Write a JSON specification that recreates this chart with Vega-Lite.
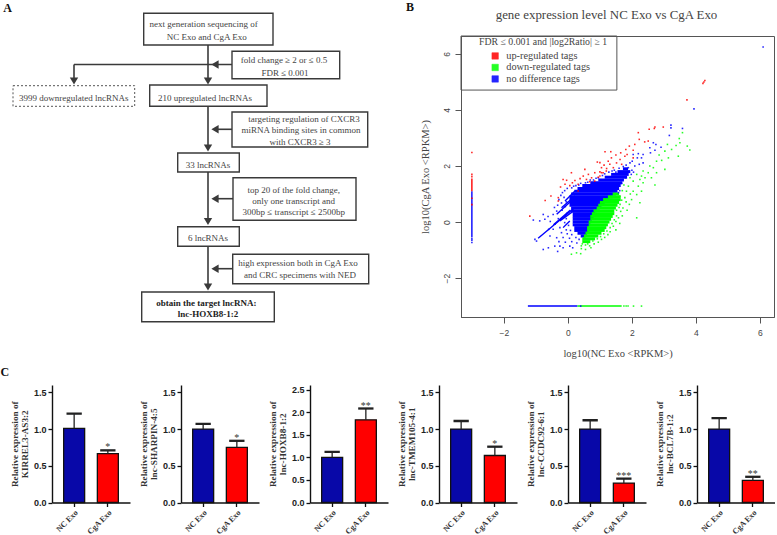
{
"$schema":"https://vega.github.io/schema/vega-lite/v6.json",
"background":"white",
"padding":0,
"spacing":6,
"datasets":{
"boxes":[
{"id":"seq","x0":141.7,"x1":271,"y0":12.3,"y1":44,"dash":"solid"},
{"id":"fc","x0":230,"x1":337.7,"y0":50.3,"y1":77.7,"dash":"solid"},
{"id":"down","x0":11,"x1":132.7,"y0":84.7,"y1":105.3,"dash":"dashed"},
{"id":"up","x0":147.7,"x1":265,"y0":84,"y1":105.3,"dash":"solid"},
{"id":"mirna","x0":230,"x1":365.7,"y0":111,"y1":146,"dash":"solid"},
{"id":"n33","x0":175.7,"x1":237.3,"y0":152,"y1":171,"dash":"solid"},
{"id":"top20","x0":231,"x1":354,"y0":176.7,"y1":219.3,"dash":"solid"},
{"id":"n6","x0":175.7,"x1":237.3,"y0":225.7,"y1":245.3,"dash":"solid"},
{"id":"high","x0":230.7,"x1":366.7,"y0":253.3,"y1":282.7,"dash":"solid"},
{"id":"target","x0":139.7,"x1":272.3,"y0":291,"y1":320.7,"dash":"solid"}
],
"links":[
{"x0":206,"x1":206,"y0":44,"y1":78},
{"x0":206,"x1":206,"y0":105,"y1":146},
{"x0":206,"x1":206,"y0":171,"y1":220},
{"x0":206,"x1":206,"y0":245,"y1":285},
{"x0":230,"x1":72,"y0":63.5,"y1":63.5},
{"x0":72,"x1":72,"y0":63.5,"y1":78},
{"x0":230,"x1":212,"y0":128.3,"y1":128.3},
{"x0":231,"x1":212,"y0":197.7,"y1":197.7},
{"x0":231,"x1":212,"y0":267.7,"y1":267.7}
],
"heads":[
{"x":206,"y":80,"dir":"triangle-down"},
{"x":72,"y":80,"dir":"triangle-down"},
{"x":206,"y":147,"dir":"triangle-down"},
{"x":206,"y":220.5,"dir":"triangle-down"},
{"x":206,"y":286,"dir":"triangle-down"},
{"x":213,"y":63.5,"dir":"triangle-left"},
{"x":213,"y":128.3,"dir":"triangle-left"},
{"x":213,"y":197.7,"dir":"triangle-left"},
{"x":213,"y":267.7,"dir":"triangle-left"}
],
"labels":[
{"x":201.7,"y":23,"t":"next generation sequencing of"},
{"x":204.7,"y":36,"t":"NC Exo and CgA Exo"},
{"x":282,"y":59,"t":"fold change ≥ 2 or ≤ 0.5"},
{"x":283,"y":72,"t":"FDR ≤ 0.001"},
{"x":71.7,"y":96.7,"t":"3999 downregulated lncRNAs"},
{"x":203,"y":96.5,"t":"210 upregulated lncRNAs"},
{"x":302,"y":118.3,"t":"targeting regulation of CXCR3"},
{"x":299,"y":129.3,"t":"miRNA binding sites in common"},
{"x":298,"y":140.7,"t":"with CXCR3 ≥ 3"},
{"x":206,"y":163.5,"t":"33 lncRNAs"},
{"x":291.7,"y":188.7,"t":"top 20 of the fold change,"},
{"x":291.7,"y":200,"t":"only one transcript and"},
{"x":291.7,"y":211,"t":"300bp ≤ transcript ≤ 2500bp"},
{"x":206,"y":236.7,"t":"6 lncRNAs"},
{"x":296,"y":262,"t":"high expression both in CgA Exo"},
{"x":298,"y":273.5,"t":"and CRC specimens with NED"}
],
"bold":[
{"x":204.3,"y":302.3,"t":"obtain the target lncRNA:"},
{"x":206,"y":313,"t":"lnc-HOXB8-1:2"}
],
"panelLetters":[{"x":5.5,"y":6.5,"t":"A"},{"x":408,"y":5.5,"t":"B"}],
"legendFrame":[{"x0":-3.34,"x1":1.53,"y0":4.71,"y1":6.64}],
"bands":[
{"x0":1.72,"x1":1.88,"y0":1.9,"y1":1.9,"tag":"n"},{"x0":1.55,"x1":1.95,"y0":1.8,"y1":1.8,"tag":"n"},{"x0":1.35,"x1":1.9,"y0":1.7,"y1":1.7,"tag":"n"},{"x0":1.15,"x1":1.85,"y0":1.6,"y1":1.6,"tag":"n"},{"x0":0.95,"x1":1.75,"y0":1.5,"y1":1.5,"tag":"n"},{"x0":0.7,"x1":1.7,"y0":1.4,"y1":1.4,"tag":"n"},{"x0":0.45,"x1":1.65,"y0":1.3,"y1":1.3,"tag":"n"},{"x0":0.3,"x1":1.6,"y0":1.2,"y1":1.2,"tag":"n"},{"x0":0.2,"x1":1.55,"y0":1.1,"y1":1.1,"tag":"n"},{"x0":0.1,"x1":1.5,"y0":1.0,"y1":1.0,"tag":"n"},{"x0":0.05,"x1":1.4,"y0":0.9,"y1":0.9,"tag":"n"},{"x0":0.05,"x1":1.3,"y0":0.8,"y1":0.8,"tag":"n"},{"x0":0.05,"x1":1.15,"y0":0.7,"y1":0.7,"tag":"n"},{"x0":0.05,"x1":1.05,"y0":0.6,"y1":0.6,"tag":"n"},{"x0":0.1,"x1":1.0,"y0":0.5,"y1":0.5,"tag":"n"},{"x0":0.1,"x1":0.9,"y0":0.4,"y1":0.4,"tag":"n"},{"x0":0.15,"x1":0.85,"y0":0.3,"y1":0.3,"tag":"n"},{"x0":0.15,"x1":0.8,"y0":0.2,"y1":0.2,"tag":"n"},{"x0":0.15,"x1":0.75,"y0":0.1,"y1":0.1,"tag":"n"},{"x0":0.15,"x1":0.7,"y0":0,"y1":0,"tag":"n"},{"x0":0.15,"x1":0.7,"y0":-0.1,"y1":-0.1,"tag":"n"},{"x0":0.2,"x1":0.65,"y0":-0.2,"y1":-0.2,"tag":"n"},{"x0":0.2,"x1":0.65,"y0":-0.3,"y1":-0.3,"tag":"n"},{"x0":0.3,"x1":0.6,"y0":-0.4,"y1":-0.4,"tag":"n"},{"x0":0.4,"x1":0.55,"y0":-0.5,"y1":-0.5,"tag":"n"},
{"x0":1.4,"x1":1.6,"y0":1.0,"y1":1.0,"tag":"d"},{"x0":1.25,"x1":1.65,"y0":0.9,"y1":0.9,"tag":"d"},{"x0":1.1,"x1":1.65,"y0":0.8,"y1":0.8,"tag":"d"},{"x0":1.0,"x1":1.6,"y0":0.7,"y1":0.7,"tag":"d"},{"x0":0.95,"x1":1.55,"y0":0.6,"y1":0.6,"tag":"d"},{"x0":0.9,"x1":1.5,"y0":0.5,"y1":0.5,"tag":"d"},{"x0":0.8,"x1":1.45,"y0":0.4,"y1":0.4,"tag":"d"},{"x0":0.75,"x1":1.45,"y0":0.3,"y1":0.3,"tag":"d"},{"x0":0.7,"x1":1.4,"y0":0.2,"y1":0.2,"tag":"d"},{"x0":0.7,"x1":1.35,"y0":0.1,"y1":0.1,"tag":"d"},{"x0":0.65,"x1":1.3,"y0":0,"y1":0,"tag":"d"},{"x0":0.65,"x1":1.25,"y0":-0.1,"y1":-0.1,"tag":"d"},{"x0":0.6,"x1":1.2,"y0":-0.2,"y1":-0.2,"tag":"d"},{"x0":0.6,"x1":1.15,"y0":-0.3,"y1":-0.3,"tag":"d"},{"x0":0.55,"x1":1.05,"y0":-0.4,"y1":-0.4,"tag":"d"},{"x0":0.5,"x1":0.95,"y0":-0.5,"y1":-0.5,"tag":"d"},{"x0":0.45,"x1":0.85,"y0":-0.6,"y1":-0.6,"tag":"d"},{"x0":0.45,"x1":0.7,"y0":-0.7,"y1":-0.7,"tag":"d"}
],
"strips":[
{"x0":-3,"x1":-3,"y0":-0.55,"y1":1.1,"tag":"n"},
{"x0":-3,"x1":-3,"y0":1.1,"y1":1.55,"tag":"u"},
{"x0":-1.25,"x1":0.3,"y0":-3,"y1":-3,"tag":"n"},
{"x0":0.3,"x1":1.68,"y0":-3,"y1":-3,"tag":"d"},
{"x0":-0.93,"x1":0.22,"y0":-0.58,"y1":0.52,"tag":"n"},
{"x0":-0.2,"x1":0.22,"y0":0.51,"y1":0.93,"tag":"n"},
{"x0":-0.09,"x1":0.22,"y0":0.75,"y1":1.11,"tag":"n"},
{"x0":-0.25,"x1":0.17,"y0":0.04,"y1":0.39,"tag":"n"},
{"x0":-0.15,"x1":0.06,"y0":-0.2,"y1":0.04,"tag":"n"},
{"x0":-0.45,"x1":0.08,"y0":-0.1,"y1":0.43,"tag":"n"},
{"x0":-0.35,"x1":0.1,"y0":0.28,"y1":0.75,"tag":"n"}
],
"sparse":[
{"nc":6.1,"cga":6.25,"tag":"n"},{"nc":3.94,"cga":4.04,"tag":"n"},{"nc":3.22,"cga":3.46,"tag":"n"},{"nc":3.22,"cga":3.36,"tag":"n"},{"nc":3.58,"cga":3.34,"tag":"n"},{"nc":3.17,"cga":3.09,"tag":"n"},{"nc":2.75,"cga":2.77,"tag":"n"},{"nc":2.67,"cga":2.83,"tag":"n"},{"nc":2.91,"cga":2.67,"tag":"n"},{"nc":2.56,"cga":2.65,"tag":"n"},{"nc":2.72,"cga":2.56,"tag":"n"},{"nc":2.58,"cga":2.47,"tag":"n"},{"nc":2.2,"cga":2.44,"tag":"n"},{"nc":2.35,"cga":2.41,"tag":"n"},{"nc":2.04,"cga":2.41,"tag":"n"},{"nc":2.17,"cga":2.29,"tag":"n"},{"nc":2.3,"cga":2.29,"tag":"n"},{"nc":2.01,"cga":2.17,"tag":"n"},{"nc":2.35,"cga":2.11,"tag":"n"},{"nc":2.23,"cga":2.06,"tag":"n"},{"nc":2.09,"cga":2.0,"tag":"n"},{"nc":1.89,"cga":1.94,"tag":"n"},{"nc":1.73,"cga":1.98,"tag":"n"},{"nc":1.94,"cga":2.11,"tag":"n"},{"nc":1.82,"cga":2.03,"tag":"n"},{"nc":1.6,"cga":1.92,"tag":"n"},{"nc":1.45,"cga":1.85,"tag":"n"},{"nc":1.28,"cga":1.78,"tag":"n"},{"nc":1.15,"cga":1.72,"tag":"n"},{"nc":2.0,"cga":1.85,"tag":"n"},{"nc":1.98,"cga":1.7,"tag":"n"},{"nc":2.05,"cga":1.78,"tag":"n"},{"nc":1.5,"cga":1.78,"tag":"n"},{"nc":1.38,"cga":1.82,"tag":"n"},{"nc":1.08,"cga":1.66,"tag":"n"},{"nc":0.95,"cga":1.58,"tag":"n"},{"nc":0.88,"cga":1.56,"tag":"n"},{"nc":0.7,"cga":1.5,"tag":"n"},{"nc":0.55,"cga":1.4,"tag":"n"},{"nc":0.34,"cga":1.32,"tag":"n"},{"nc":0.18,"cga":1.28,"tag":"n"},{"nc":1.72,"cga":1.52,"tag":"n"},{"nc":1.8,"cga":1.58,"tag":"n"},{"nc":1.68,"cga":1.38,"tag":"n"},{"nc":1.62,"cga":1.12,"tag":"n"},{"nc":1.58,"cga":1.05,"tag":"n"},
{"nc":0.8,"cga":1.5,"tag":"n"},{"nc":0.62,"cga":1.42,"tag":"n"},{"nc":0.4,"cga":1.38,"tag":"n"},{"nc":0.25,"cga":1.3,"tag":"n"},{"nc":0.12,"cga":1.22,"tag":"n"},{"nc":-0.02,"cga":1.2,"tag":"n"},{"nc":-0.1,"cga":1.12,"tag":"n"},{"nc":-0.17,"cga":1.05,"tag":"n"},{"nc":-0.22,"cga":0.95,"tag":"n"},{"nc":-0.12,"cga":0.88,"tag":"n"},{"nc":-0.28,"cga":0.8,"tag":"n"},{"nc":-0.05,"cga":0.72,"tag":"n"},{"nc":-0.2,"cga":0.68,"tag":"n"},{"nc":-0.32,"cga":0.6,"tag":"n"},{"nc":-0.08,"cga":0.55,"tag":"n"},{"nc":-0.42,"cga":0.52,"tag":"n"},{"nc":-0.18,"cga":0.42,"tag":"n"},{"nc":-0.35,"cga":0.39,"tag":"n"},{"nc":-0.46,"cga":0.27,"tag":"n"},{"nc":-0.02,"cga":0.32,"tag":"n"},{"nc":-0.62,"cga":0.2,"tag":"n"},{"nc":-0.77,"cga":0.27,"tag":"n"},{"nc":-0.88,"cga":0.04,"tag":"n"},{"nc":-1.08,"cga":0.07,"tag":"n"},{"nc":-0.72,"cga":0.1,"tag":"n"},{"nc":-0.55,"cga":0.02,"tag":"n"},{"nc":-0.3,"cga":0.12,"tag":"n"},{"nc":-0.05,"cga":0.12,"tag":"n"},{"nc":-0.1,"cga":-0.02,"tag":"n"},{"nc":-0.4,"cga":-0.08,"tag":"n"},{"nc":0.02,"cga":-0.12,"tag":"n"},{"nc":-0.25,"cga":-0.2,"tag":"n"},{"nc":-0.46,"cga":-0.26,"tag":"n"},{"nc":-0.6,"cga":-0.26,"tag":"n"},{"nc":-0.05,"cga":-0.28,"tag":"n"},{"nc":0.08,"cga":-0.3,"tag":"n"},{"nc":-0.2,"cga":-0.38,"tag":"n"},{"nc":-0.02,"cga":-0.42,"tag":"n"},{"nc":0.12,"cga":-0.45,"tag":"n"},{"nc":-0.56,"cga":-0.5,"tag":"n"},{"nc":-0.35,"cga":-0.56,"tag":"n"},{"nc":-0.15,"cga":-0.55,"tag":"n"},{"nc":0.05,"cga":-0.58,"tag":"n"},{"nc":0.25,"cga":-0.55,"tag":"n"},{"nc":0.35,"cga":-0.62,"tag":"n"},{"nc":-1.03,"cga":-0.62,"tag":"n"},{"nc":-0.98,"cga":-0.68,"tag":"n"},{"nc":-0.28,"cga":-0.7,"tag":"n"},{"nc":-0.08,"cga":-0.72,"tag":"n"},{"nc":0.12,"cga":-0.7,"tag":"n"},{"nc":0.28,"cga":-0.75,"tag":"n"},{"nc":-0.41,"cga":-0.86,"tag":"n"},{"nc":-0.25,"cga":-0.86,"tag":"n"},{"nc":-0.15,"cga":-0.92,"tag":"n"},{"nc":0.06,"cga":-0.86,"tag":"n"},{"nc":0.15,"cga":-0.92,"tag":"n"},{"nc":-0.61,"cga":-0.92,"tag":"n"},{"nc":-0.77,"cga":-0.98,"tag":"n"},{"nc":-0.32,"cga":-1.05,"tag":"n"},{"nc":-3,"cga":-0.6,"tag":"n"},{"nc":-3,"cga":-0.65,"tag":"n"},{"nc":-3,"cga":-0.73,"tag":"n"},{"nc":0.4,"cga":-3,"tag":"n"},
{"nc":-3,"cga":2.48,"tag":"u"},{"nc":-3,"cga":1.7,"tag":"u"},{"nc":-3,"cga":1.62,"tag":"u"},{"nc":-3,"cga":0.85,"tag":"u"},{"nc":-3,"cga":0.62,"tag":"u"},{"nc":4.25,"cga":5.0,"tag":"u"},{"nc":4.22,"cga":4.95,"tag":"u"},{"nc":4.28,"cga":5.05,"tag":"u"},{"nc":3.72,"cga":4.36,"tag":"u"},{"nc":2.72,"cga":3.39,"tag":"u"},{"nc":2.7,"cga":3.34,"tag":"u"},{"nc":2.98,"cga":3.39,"tag":"u"},{"nc":2.54,"cga":3.31,"tag":"u"},{"nc":2.2,"cga":3.19,"tag":"u"},{"nc":2.23,"cga":2.95,"tag":"u"},{"nc":2.4,"cga":2.86,"tag":"u"},{"nc":2.51,"cga":2.89,"tag":"u"},{"nc":2.09,"cga":2.77,"tag":"u"},{"nc":1.92,"cga":2.71,"tag":"u"},{"nc":1.81,"cga":2.59,"tag":"u"},{"nc":2.04,"cga":2.56,"tag":"u"},{"nc":1.16,"cga":2.51,"tag":"u"},{"nc":1.34,"cga":2.51,"tag":"u"},{"nc":1.65,"cga":2.47,"tag":"u"},{"nc":1.85,"cga":2.41,"tag":"u"},{"nc":1.5,"cga":2.39,"tag":"u"},{"nc":1.78,"cga":2.35,"tag":"u"},{"nc":1.36,"cga":2.29,"tag":"u"},{"nc":1.63,"cga":2.23,"tag":"u"},{"nc":2.04,"cga":2.29,"tag":"u"},{"nc":1.26,"cga":2.17,"tag":"u"},{"nc":1.52,"cga":2.11,"tag":"u"},{"nc":1.13,"cga":2.03,"tag":"u"},{"nc":1.31,"cga":2.06,"tag":"u"},{"nc":1.68,"cga":2.06,"tag":"u"},{"nc":1.05,"cga":1.94,"tag":"u"},{"nc":1.21,"cga":1.91,"tag":"u"},{"nc":1.42,"cga":1.94,"tag":"u"},{"nc":1.1,"cga":1.76,"tag":"u"},{"nc":1.0,"cga":1.79,"tag":"u"},{"nc":-1.19,"cga":0.21,"tag":"u"},{"nc":-0.71,"cga":0.77,"tag":"u"},{"nc":-0.53,"cga":0.93,"tag":"u"},{"nc":-0.3,"cga":0.75,"tag":"u"},{"nc":-0.3,"cga":0.87,"tag":"u"},{"nc":-0.23,"cga":1.25,"tag":"u"},{"nc":-0.15,"cga":1.52,"tag":"u"},{"nc":-0.04,"cga":1.49,"tag":"u"},{"nc":0.11,"cga":1.76,"tag":"u"},{"nc":0.14,"cga":1.4,"tag":"u"},{"nc":-0.09,"cga":1.35,"tag":"u"},{"nc":0.32,"cga":1.35,"tag":"u"},{"nc":0.53,"cga":1.88,"tag":"u"},{"nc":0.48,"cga":1.64,"tag":"u"},{"nc":0.58,"cga":1.52,"tag":"u"},{"nc":0.64,"cga":1.7,"tag":"u"},{"nc":0.84,"cga":1.76,"tag":"u"},{"nc":0.92,"cga":2.14,"tag":"u"},{"nc":1.0,"cga":2.12,"tag":"u"},{"nc":1.0,"cga":1.64,"tag":"u"},{"nc":0.74,"cga":1.58,"tag":"u"},{"nc":0.84,"cga":1.46,"tag":"u"},{"nc":1.05,"cga":1.76,"tag":"u"},{"nc":1.2,"cga":1.82,"tag":"u"},{"nc":0.32,"cga":1.11,"tag":"u"},{"nc":0.06,"cga":1.3,"tag":"u"},{"nc":0.22,"cga":1.48,"tag":"u"},{"nc":0.68,"cga":1.44,"tag":"u"},{"nc":0.38,"cga":1.55,"tag":"u"},{"nc":0.95,"cga":1.6,"tag":"u"},
{"nc":3.58,"cga":3.19,"tag":"d"},{"nc":3.48,"cga":2.98,"tag":"d"},{"nc":3.5,"cga":2.83,"tag":"d"},{"nc":3.11,"cga":2.77,"tag":"d"},{"nc":3.38,"cga":2.73,"tag":"d"},{"nc":3.73,"cga":2.71,"tag":"d"},{"nc":3.81,"cga":2.57,"tag":"d"},{"nc":3.24,"cga":2.59,"tag":"d"},{"nc":3.45,"cga":2.35,"tag":"d"},{"nc":3.03,"cga":2.53,"tag":"d"},{"nc":2.85,"cga":2.39,"tag":"d"},{"nc":3.14,"cga":2.29,"tag":"d"},{"nc":2.77,"cga":2.17,"tag":"d"},{"nc":2.93,"cga":2.2,"tag":"d"},{"nc":3.03,"cga":1.88,"tag":"d"},{"nc":2.56,"cga":2.0,"tag":"d"},{"nc":2.67,"cga":1.94,"tag":"d"},{"nc":2.51,"cga":1.76,"tag":"d"},{"nc":2.77,"cga":1.76,"tag":"d"},{"nc":2.61,"cga":1.58,"tag":"d"},{"nc":2.35,"cga":1.82,"tag":"d"},{"nc":2.3,"cga":1.64,"tag":"d"},{"nc":2.41,"cga":1.58,"tag":"d"},{"nc":2.15,"cga":1.7,"tag":"d"},{"nc":2.04,"cga":1.46,"tag":"d"},{"nc":2.25,"cga":1.52,"tag":"d"},{"nc":2.2,"cga":1.28,"tag":"d"},{"nc":2.35,"cga":1.4,"tag":"d"},{"nc":2.72,"cga":1.32,"tag":"d"},{"nc":2.04,"cga":1.1,"tag":"d"},{"nc":2.3,"cga":1.1,"tag":"d"},{"nc":2.15,"cga":0.98,"tag":"d"},{"nc":1.89,"cga":1.28,"tag":"d"},{"nc":1.94,"cga":1.58,"tag":"d"},{"nc":1.83,"cga":1.1,"tag":"d"},{"nc":1.99,"cga":0.8,"tag":"d"},{"nc":2.25,"cga":0.69,"tag":"d"},{"nc":1.78,"cga":0.87,"tag":"d"},{"nc":1.92,"cga":0.63,"tag":"d"},{"nc":1.63,"cga":0.63,"tag":"d"},{"nc":2.15,"cga":0.15,"tag":"d"},{"nc":1.75,"cga":1.32,"tag":"d"},{"nc":1.7,"cga":1.12,"tag":"d"},{"nc":1.95,"cga":1.0,"tag":"d"},{"nc":1.82,"cga":0.72,"tag":"d"},{"nc":1.72,"cga":0.5,"tag":"d"},{"nc":1.65,"cga":0.38,"tag":"d"},{"nc":1.85,"cga":0.42,"tag":"d"},{"nc":1.58,"cga":0.15,"tag":"d"},{"nc":1.7,"cga":0.22,"tag":"d"},{"nc":1.5,"cga":0.02,"tag":"d"},{"nc":1.62,"cga":-0.05,"tag":"d"},{"nc":1.42,"cga":-0.15,"tag":"d"},{"nc":1.5,"cga":-0.28,"tag":"d"},{"nc":1.32,"cga":-0.35,"tag":"d"},{"nc":1.25,"cga":-0.45,"tag":"d"},{"nc":1.15,"cga":-0.55,"tag":"d"},{"nc":1.05,"cga":-0.62,"tag":"d"},{"nc":0.95,"cga":-0.72,"tag":"d"},{"nc":0.82,"cga":-0.78,"tag":"d"},{"nc":0.68,"cga":-0.85,"tag":"d"},{"nc":0.55,"cga":-0.82,"tag":"d"},{"nc":0.42,"cga":-0.85,"tag":"d"},{"nc":0.4,"cga":-1.13,"tag":"d"},{"nc":0.27,"cga":-1.1,"tag":"d"},{"nc":0.11,"cga":-1.15,"tag":"d"},{"nc":0.55,"cga":-0.98,"tag":"d"},{"nc":0.42,"cga":-0.95,"tag":"d"},{"nc":0.72,"cga":-0.92,"tag":"d"},{"nc":1.62,"cga":0.92,"tag":"d"},{"nc":1.68,"cga":0.78,"tag":"d"},{"nc":1.6,"cga":0.52,"tag":"d"},{"nc":1.52,"cga":0.42,"tag":"d"},{"nc":1.52,"cga":0.22,"tag":"d"},{"nc":1.45,"cga":0.08,"tag":"d"},{"nc":1.38,"cga":-0.05,"tag":"d"},{"nc":1.32,"cga":-0.2,"tag":"d"},{"nc":1.22,"cga":-0.32,"tag":"d"},{"nc":1.12,"cga":-0.42,"tag":"d"},{"nc":1.02,"cga":-0.52,"tag":"d"},{"nc":0.92,"cga":-0.6,"tag":"d"},{"nc":0.78,"cga":-0.68,"tag":"d"},{"nc":0.62,"cga":-0.78,"tag":"d"},{"nc":0.45,"cga":-0.78,"tag":"d"},{"nc":1.75,"cga":-3,"tag":"d"},{"nc":1.82,"cga":-3,"tag":"d"},{"nc":1.88,"cga":-3,"tag":"d"},{"nc":2.05,"cga":-3,"tag":"d"},{"nc":2.3,"cga":-3,"tag":"d"}
],
"bars":[
{"panel":1,"group":"NC Exo","mean":1.01,"top":1.21,"sig":""},{"panel":1,"group":"CgA Exo","mean":0.665,"top":0.71,"sig":"*"},
{"panel":2,"group":"NC Exo","mean":1.0,"top":1.07,"sig":""},{"panel":2,"group":"CgA Exo","mean":0.75,"top":0.84,"sig":"*"},
{"panel":3,"group":"NC Exo","mean":1.0,"top":1.12,"sig":""},{"panel":3,"group":"CgA Exo","mean":1.83,"top":2.08,"sig":"**"},
{"panel":4,"group":"NC Exo","mean":1.0,"top":1.11,"sig":""},{"panel":4,"group":"CgA Exo","mean":0.64,"top":0.76,"sig":"*"},
{"panel":5,"group":"NC Exo","mean":1.0,"top":1.12,"sig":""},{"panel":5,"group":"CgA Exo","mean":0.265,"top":0.325,"sig":"***"},
{"panel":6,"group":"NC Exo","mean":1.0,"top":1.15,"sig":""},{"panel":6,"group":"CgA Exo","mean":0.3,"top":0.35,"sig":"**"}
]
},
"vconcat":[
{"spacing":4,"hconcat":[
{"width":340,"height":281,"view":{"stroke":null},
"layer":[
{"data":{"name":"boxes"},"mark":{"type":"rect","fill":"white","stroke":"#3a3a3a","strokeWidth":1.4},
"transform":[{"filter":"datum.dash=='solid'"}],
"encoding":{"x":{"field":"x0","type":"quantitative","scale":{"domain":[50,390],"nice":false},"axis":null},"x2":{"field":"x1"},"y":{"field":"y0","type":"quantitative","scale":{"domain":[316,35],"nice":false},"axis":null},"y2":{"field":"y1"}}},
{"data":{"name":"boxes"},"mark":{"type":"rect","fill":"white","stroke":"#555","strokeWidth":1,"strokeDash":[2,2]},
"transform":[{"filter":"datum.dash=='dashed'"}],
"encoding":{"x":{"field":"x0","type":"quantitative"},"x2":{"field":"x1"},"y":{"field":"y0","type":"quantitative"},"y2":{"field":"y1"}}},
{"data":{"name":"links"},"mark":{"type":"rule","stroke":"#3a3a3a","strokeWidth":1.6},
"encoding":{"x":{"field":"x0","type":"quantitative"},"x2":{"field":"x1"},"y":{"field":"y0","type":"quantitative"},"y2":{"field":"y1"}}},
{"data":{"name":"heads"},"mark":{"type":"point","filled":true,"fill":"#3a3a3a","opacity":1,"size":70},
"encoding":{"x":{"field":"x","type":"quantitative"},"y":{"field":"y","type":"quantitative"},"shape":{"field":"dir","type":"nominal","scale":null}}},
{"data":{"name":"labels"},"mark":{"type":"text","font":"Liberation Serif","fontSize":9,"fill":"#444"},
"encoding":{"x":{"field":"x","type":"quantitative"},"y":{"field":"y","type":"quantitative"},"text":{"field":"t"}}},
{"data":{"name":"bold"},"mark":{"type":"text","font":"Liberation Serif","fontSize":9,"fontWeight":"bold","fill":"#222"},
"encoding":{"x":{"field":"x","type":"quantitative"},"y":{"field":"y","type":"quantitative"},"text":{"field":"t"}}},
{"data":{"name":"panelLetters"},"mark":{"type":"text","font":"Liberation Serif","fontSize":12,"fontWeight":"bold","fill":"#111"},
"encoding":{"x":{"field":"x","type":"quantitative"},"y":{"field":"y","type":"quantitative"},"text":{"field":"t"}}}
]},
{"width":313,"height":281,"view":{"stroke":"#555","strokeWidth":1},
"title":{"text":"gene expression level NC Exo vs CgA Exo","font":"Liberation Serif","fontSize":12.9,"fontWeight":"normal","color":"#444","anchor":"middle","dx":-11,"offset":14},
"layer":[
{"data":{"name":"bands"},"mark":{"type":"rule","strokeWidth":3},
"encoding":{"x":{"field":"x0","type":"quantitative","scale":{"domain":[-3.34,6.44],"nice":false,"zero":false},
"axis":{"title":"log10(NC Exo <RPKM>)","values":[-2,0,2,4,6],"titleFont":"Liberation Serif","titleFontSize":10.5,"titleFontWeight":"normal","titleColor":"#444","labelFont":"Liberation Sans","labelFontSize":8.5,"labelFontWeight":"normal","labelColor":"#444","tickColor":"#555","tickWidth":1,"tickSize":6,"domainColor":"#555","domainWidth":1,"labelPadding":5,"titlePadding":12}},
"x2":{"field":"x1"},
"y":{"field":"y0","type":"quantitative","scale":{"domain":[-3.39,6.64],"nice":false,"zero":false},
"axis":{"title":"log10(CgA Exo <RPKM>)","values":[-2,0,2,4,6],"labelAngle":-90,"labelAlign":"center","labelBaseline":"bottom","titleFont":"Liberation Serif","titleFontSize":10.5,"titleFontWeight":"normal","titleColor":"#444","labelFont":"Liberation Sans","labelFontSize":8.5,"labelFontWeight":"normal","labelColor":"#444","tickColor":"#555","tickWidth":1,"tickSize":6,"domainColor":"#555","domainWidth":1,"labelPadding":4,"titlePadding":12}},
"y2":{"field":"y1"},
"color":{"field":"tag","type":"nominal","scale":{"domain":["u","d","n"],"range":["#ff0000","#00ff00","#0000ff"]},
"legend":{"orient":"none","legendX":427,"legendY":1,"title":"FDR ≤ 0.001 and |log2Ratio| ≥ 1","titleFont":"Liberation Serif","titleFontSize":9.8,"titleFontWeight":"normal","titleColor":"#444","titleAnchor":"start","titlePadding":4,"labelFont":"Liberation Serif","labelFontSize":10.3,"labelColor":"#444","labelOffset":6,"symbolType":"square","symbolSize":42,"symbolOffset":11,"padding":0,"rowPadding":0.5,"labelExpr":"{'u':'up-regulated tags','d':'down-regulated tags','n':'no difference tags'}[datum.label]"}}}},
{"data":{"name":"strips"},"mark":{"type":"rule","strokeWidth":1.4},
"encoding":{"x":{"field":"x0","type":"quantitative"},"x2":{"field":"x1"},"y":{"field":"y0","type":"quantitative"},"y2":{"field":"y1"},"color":{"field":"tag","type":"nominal"}}},
{"data":{"name":"sparse"},"mark":{"type":"point","shape":"square","filled":true,"size":2.5,"opacity":0.85},
"encoding":{"x":{"field":"nc","type":"quantitative"},"y":{"field":"cga","type":"quantitative"},"color":{"field":"tag","type":"nominal"}}},
{"data":{"name":"legendFrame"},"mark":{"type":"rect","fillOpacity":0,"fill":"white","stroke":"#555","strokeWidth":1},
"encoding":{"x":{"field":"x0","type":"quantitative"},"x2":{"field":"x1"},"y":{"field":"y0","type":"quantitative"},"y2":{"field":"y1"}}}
]}
]},
{"spacing":9,"data":{"name":"bars"},"hconcat":[
{"width":78,"height":117.5,"view":{"stroke":null},"title":{"text":"C","font":"Liberation Serif","fontSize":12,"fontWeight":"bold","color":"#111","anchor":"start","dx":-10,"offset":6},
"transform":[{"filter":"datum.panel==1"}],
"encoding":{"x":{"field":"group","type":"nominal","sort":["NC Exo","CgA Exo"],"scale":{"paddingInner":0.377,"paddingOuter":0.346},"axis":{"title":null,"labelAngle":-45}}},
"layer":[
{"mark":{"type":"bar","stroke":"#111","strokeWidth":1.3},"encoding":{"y":{"field":"mean","type":"quantitative","scale":{"domain":[0,1.5]},"axis":{"values":[0,0.5,1,1.5],"tickCount":6,"format":".1f","title":["Relative expression of","KIRREL3-AS3:2"]}},"fill":{"field":"group","type":"nominal","scale":{"domain":["NC Exo","CgA Exo"],"range":["#0808a8","#ff0000"]},"legend":null}}},
{"mark":{"type":"rule","stroke":"#222","strokeWidth":1.3},"encoding":{"y":{"field":"mean","type":"quantitative"},"y2":{"field":"top"}}},
{"mark":{"type":"tick","stroke":"#222","strokeWidth":1.3,"size":14,"opacity":1},"encoding":{"y":{"field":"top","type":"quantitative"}}},
{"mark":{"type":"text","font":"Liberation Serif","fontSize":10,"fill":"#333","baseline":"bottom","dy":2},"encoding":{"y":{"field":"top","type":"quantitative"},"text":{"field":"sig"}}}
]},
{"width":78,"height":117.5,"view":{"stroke":null},
"transform":[{"filter":"datum.panel==2"}],
"encoding":{"x":{"field":"group","type":"nominal","sort":["NC Exo","CgA Exo"],"scale":{"paddingInner":0.377,"paddingOuter":0.346},"axis":{"title":null,"labelAngle":-45}}},
"layer":[
{"mark":{"type":"bar","stroke":"#111","strokeWidth":1.3},"encoding":{"y":{"field":"mean","type":"quantitative","scale":{"domain":[0,1.5]},"axis":{"values":[0,0.5,1,1.5],"tickCount":6,"format":".1f","title":["Relative expression of","lnc-SHARPIN-4:5"]}},"fill":{"field":"group","type":"nominal","scale":{"domain":["NC Exo","CgA Exo"],"range":["#0808a8","#ff0000"]},"legend":null}}},
{"mark":{"type":"rule","stroke":"#222","strokeWidth":1.3},"encoding":{"y":{"field":"mean","type":"quantitative"},"y2":{"field":"top"}}},
{"mark":{"type":"tick","stroke":"#222","strokeWidth":1.3,"size":14,"opacity":1},"encoding":{"y":{"field":"top","type":"quantitative"}}},
{"mark":{"type":"text","font":"Liberation Serif","fontSize":10,"fill":"#333","baseline":"bottom","dy":2},"encoding":{"y":{"field":"top","type":"quantitative"},"text":{"field":"sig"}}}
]},
{"width":78,"height":117.5,"view":{"stroke":null},
"transform":[{"filter":"datum.panel==3"}],
"encoding":{"x":{"field":"group","type":"nominal","sort":["NC Exo","CgA Exo"],"scale":{"paddingInner":0.377,"paddingOuter":0.346},"axis":{"title":null,"labelAngle":-45}}},
"layer":[
{"mark":{"type":"bar","stroke":"#111","strokeWidth":1.3},"encoding":{"y":{"field":"mean","type":"quantitative","scale":{"domain":[0,2.5]},"axis":{"values":[0,0.5,1,1.5,2,2.5],"tickCount":8,"format":".1f","title":["Relative expression of","lnc-HOXB8-1:2"]}},"fill":{"field":"group","type":"nominal","scale":{"domain":["NC Exo","CgA Exo"],"range":["#0808a8","#ff0000"]},"legend":null}}},
{"mark":{"type":"rule","stroke":"#222","strokeWidth":1.3},"encoding":{"y":{"field":"mean","type":"quantitative"},"y2":{"field":"top"}}},
{"mark":{"type":"tick","stroke":"#222","strokeWidth":1.3,"size":14,"opacity":1},"encoding":{"y":{"field":"top","type":"quantitative"}}},
{"mark":{"type":"text","font":"Liberation Serif","fontSize":10,"fill":"#333","baseline":"bottom","dy":2},"encoding":{"y":{"field":"top","type":"quantitative"},"text":{"field":"sig"}}}
]},
{"width":78,"height":117.5,"view":{"stroke":null},
"transform":[{"filter":"datum.panel==4"}],
"encoding":{"x":{"field":"group","type":"nominal","sort":["NC Exo","CgA Exo"],"scale":{"paddingInner":0.377,"paddingOuter":0.346},"axis":{"title":null,"labelAngle":-45}}},
"layer":[
{"mark":{"type":"bar","stroke":"#111","strokeWidth":1.3},"encoding":{"y":{"field":"mean","type":"quantitative","scale":{"domain":[0,1.5]},"axis":{"values":[0,0.5,1,1.5],"tickCount":6,"format":".1f","title":["Relative expression of","lnc-TMEM105-4:1"]}},"fill":{"field":"group","type":"nominal","scale":{"domain":["NC Exo","CgA Exo"],"range":["#0808a8","#ff0000"]},"legend":null}}},
{"mark":{"type":"rule","stroke":"#222","strokeWidth":1.3},"encoding":{"y":{"field":"mean","type":"quantitative"},"y2":{"field":"top"}}},
{"mark":{"type":"tick","stroke":"#222","strokeWidth":1.3,"size":14,"opacity":1},"encoding":{"y":{"field":"top","type":"quantitative"}}},
{"mark":{"type":"text","font":"Liberation Serif","fontSize":10,"fill":"#333","baseline":"bottom","dy":2},"encoding":{"y":{"field":"top","type":"quantitative"},"text":{"field":"sig"}}}
]},
{"width":78,"height":117.5,"view":{"stroke":null},
"transform":[{"filter":"datum.panel==5"}],
"encoding":{"x":{"field":"group","type":"nominal","sort":["NC Exo","CgA Exo"],"scale":{"paddingInner":0.377,"paddingOuter":0.346},"axis":{"title":null,"labelAngle":-45}}},
"layer":[
{"mark":{"type":"bar","stroke":"#111","strokeWidth":1.3},"encoding":{"y":{"field":"mean","type":"quantitative","scale":{"domain":[0,1.5]},"axis":{"values":[0,0.5,1,1.5],"tickCount":6,"format":".1f","title":["Relative expression of","lnc-CCDC92-6:1"]}},"fill":{"field":"group","type":"nominal","scale":{"domain":["NC Exo","CgA Exo"],"range":["#0808a8","#ff0000"]},"legend":null}}},
{"mark":{"type":"rule","stroke":"#222","strokeWidth":1.3},"encoding":{"y":{"field":"mean","type":"quantitative"},"y2":{"field":"top"}}},
{"mark":{"type":"tick","stroke":"#222","strokeWidth":1.3,"size":14,"opacity":1},"encoding":{"y":{"field":"top","type":"quantitative"}}},
{"mark":{"type":"text","font":"Liberation Serif","fontSize":10,"fill":"#333","baseline":"bottom","dy":2},"encoding":{"y":{"field":"top","type":"quantitative"},"text":{"field":"sig"}}}
]},
{"width":78,"height":117.5,"view":{"stroke":null},
"transform":[{"filter":"datum.panel==6"}],
"encoding":{"x":{"field":"group","type":"nominal","sort":["NC Exo","CgA Exo"],"scale":{"paddingInner":0.377,"paddingOuter":0.346},"axis":{"title":null,"labelAngle":-45}}},
"layer":[
{"mark":{"type":"bar","stroke":"#111","strokeWidth":1.3},"encoding":{"y":{"field":"mean","type":"quantitative","scale":{"domain":[0,1.5]},"axis":{"values":[0,0.5,1,1.5],"tickCount":6,"format":".1f","title":["Relative expression of","lnc-BCL7B-1:2"]}},"fill":{"field":"group","type":"nominal","scale":{"domain":["NC Exo","CgA Exo"],"range":["#0808a8","#ff0000"]},"legend":null}}},
{"mark":{"type":"rule","stroke":"#222","strokeWidth":1.3},"encoding":{"y":{"field":"mean","type":"quantitative"},"y2":{"field":"top"}}},
{"mark":{"type":"tick","stroke":"#222","strokeWidth":1.3,"size":14,"opacity":1},"encoding":{"y":{"field":"top","type":"quantitative"}}},
{"mark":{"type":"text","font":"Liberation Serif","fontSize":10,"fill":"#333","baseline":"bottom","dy":2},"encoding":{"y":{"field":"top","type":"quantitative"},"text":{"field":"sig"}}}
]}
]}
],
"config":{
"axis":{"grid":false,"labelOverlap":false,"domainColor":"#111","domainWidth":1.4,"tickColor":"#111","tickWidth":1.3,"tickSize":4,"labelFont":"Liberation Sans","labelFontSize":9,"labelFontWeight":"bold","labelColor":"#222","labelPadding":2,"titleFont":"Liberation Serif","titleFontSize":9.2,"titleFontWeight":"bold","titleColor":"#333","titleLineHeight":10,"titlePadding":4},
"axisX":{"labelFont":"Liberation Serif","labelFontSize":8,"labelColor":"#333","labelPadding":2},
"legend":{"symbolStrokeWidth":0.5}
}
}
